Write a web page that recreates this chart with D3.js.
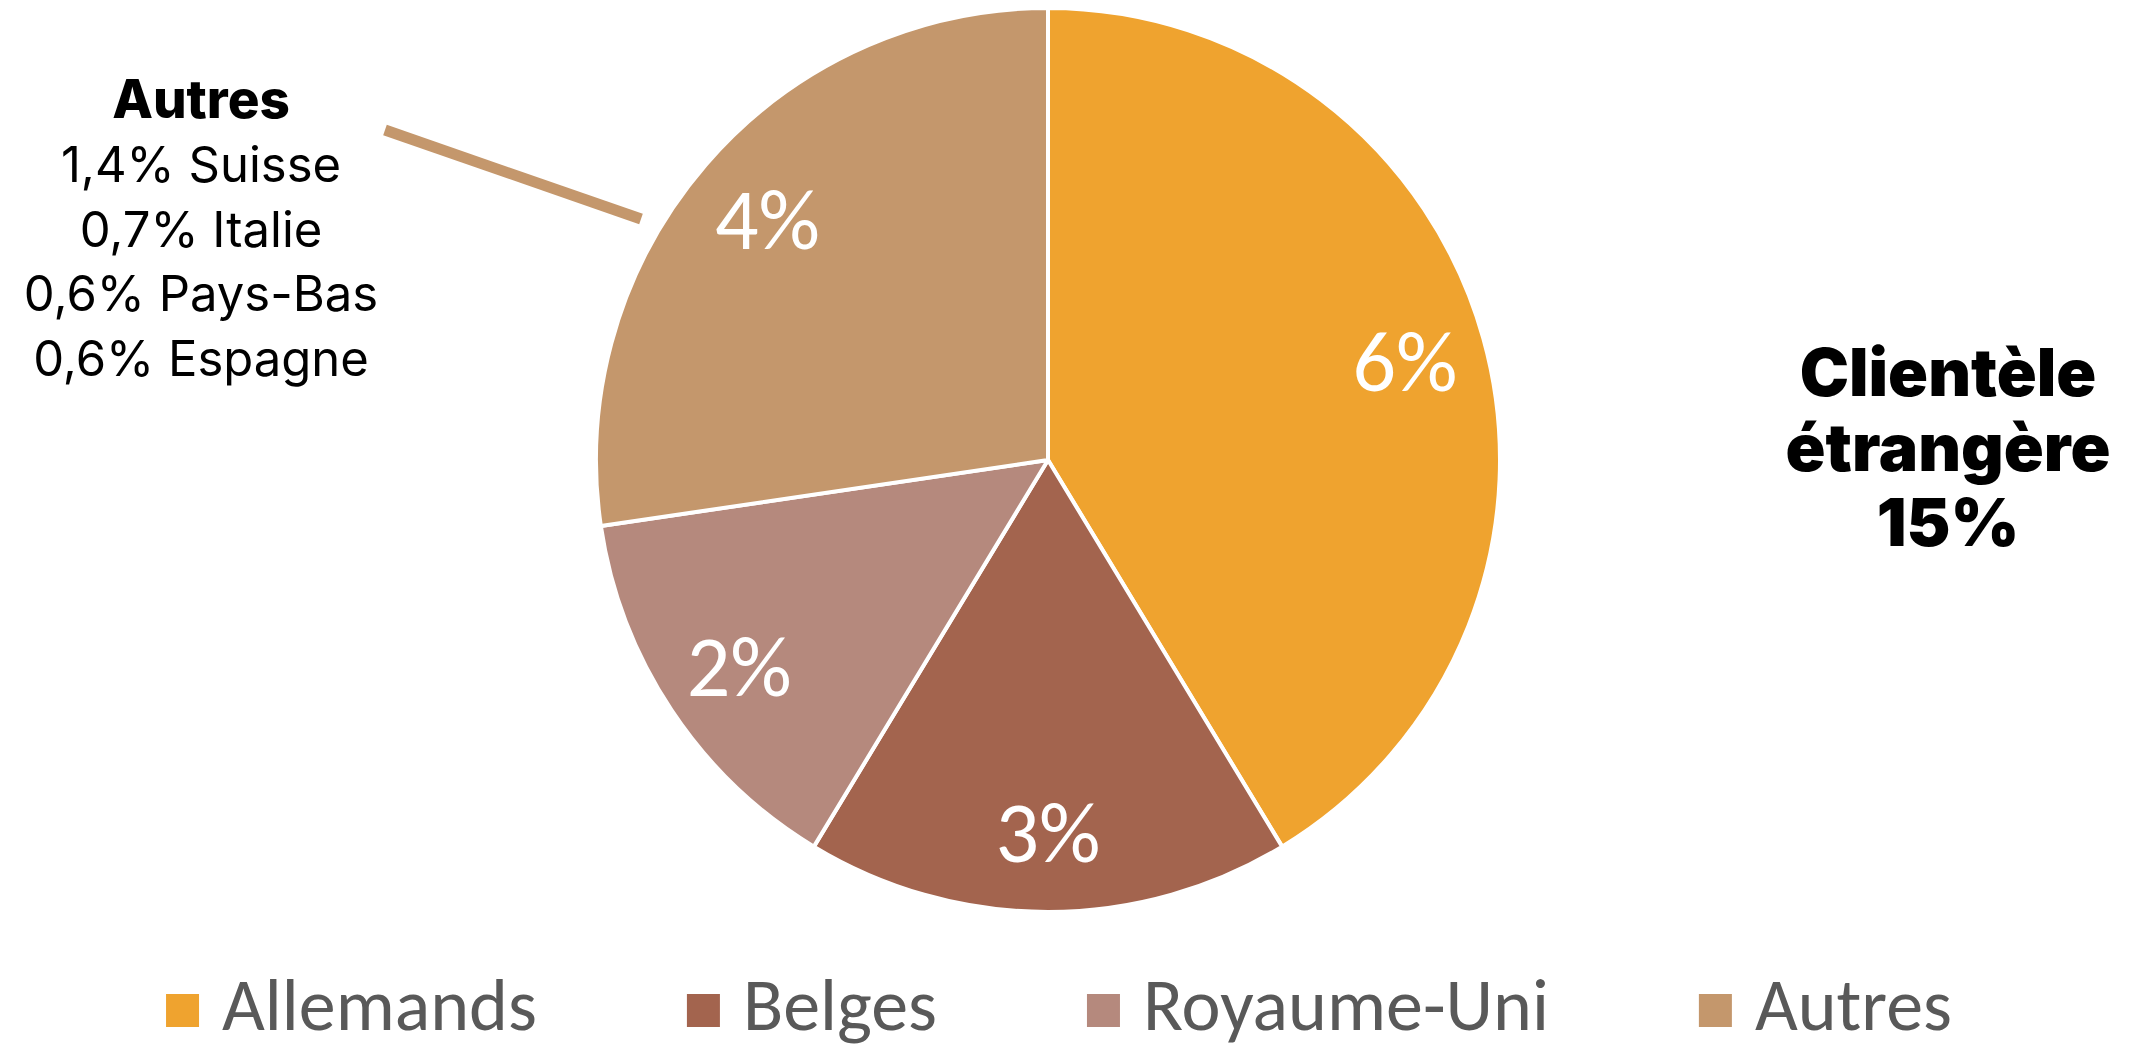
<!DOCTYPE html>
<html>
<head>
<meta charset="utf-8">
<title>Clientèle étrangère</title>
<style>
    body { margin: 0; background: #fff; }
    svg { display: block; }
</style>
</head>
<body>
<svg width="2144" height="1046"></svg>
<script src="https://d3js.org/d3.v7.min.js"></script>
<script>

    // data
    var categories = ["Allemands", "Belges", "Royaume-Uni", "Autres"];
    var values = [6.2, 2.6, 2.1, 4.1];
    var sliceLabels = ["6%", "3%", "2%", "4%"];
    var colors = ["#efa32f", "#a3644e", "#b5897d", "#c4976c"];
    var autresTitle = "Autres";
    var autresDetail = ["1,4% Suisse", "0,7% Italie", "0,6% Pays-Bas", "0,6% Espagne"];
    var totalLines = ["Clientèle", "étrangère", "15%"];

    var svg = d3.select("svg"),
        cx = 1048, cy = 460, radius = 452;

    var color = d3.scaleOrdinal().domain(categories).range(colors);

    var pie = d3.pie()
        .sort(null)
        .value(function (d) { return d.value; });

    var data = categories.map(function (c, i) {
        return {key: c, value: values[i], label: sliceLabels[i]};
    });

    var arc = d3.arc().innerRadius(0).outerRadius(radius);
    var labelArc = d3.arc().innerRadius(radius * 0.82).outerRadius(radius * 0.82);

    var g = svg.append("g").attr("transform", "translate(" + cx + "," + cy + ")");

    var arcs = pie(data);

    g.selectAll("path")
        .data(arcs)
        .enter().append("path")
        .attr("d", arc)
        .attr("fill", function (d) { return color(d.data.key); })
        .attr("stroke", "#fff")
        .attr("stroke-width", 4)
        .attr("stroke-linejoin", "round");

    g.selectAll("text.pct")
        .data(arcs)
        .enter().append("text")
        .attr("class", "pct")
        .attr("transform", function (d) { return "translate(" + labelArc.centroid(d) + ")"; })
        .attr("text-anchor", "middle")
        .attr("dy", "0.36em")
        .attr("fill", "#fff")
        .attr("font-family", "Carlito, Calibri, Lato, sans-serif")
        .attr("font-size", 86)
        .text(function (d) { return d.data.label; });

    // leader line from the "Autres" note to its slice
    svg.append("line")
        .attr("x1", 385).attr("y1", 130)
        .attr("x2", 641).attr("y2", 219)
        .attr("stroke", color("Autres"))
        .attr("stroke-width", 11);

    var note = svg.append("text")
        .attr("text-anchor", "middle")
        .attr("font-family", "Inter, sans-serif")
        .attr("fill", "#000");

    note.append("tspan")
        .attr("x", 201).attr("y", 118)
        .attr("font-weight", 800)
        .attr("font-size", 53)
        .text(autresTitle);

    note.selectAll("tspan.detail")
        .data(autresDetail)
        .enter().append("tspan")
        .attr("class", "detail")
        .attr("x", 201)
        .attr("y", function (d, i) { return 182 + i * 64.5; })
        .attr("font-size", 49)
        .text(function (d) { return d; });

    svg.append("text")
        .attr("text-anchor", "middle")
        .attr("font-family", "Inter, sans-serif")
        .attr("font-weight", 900)
        .attr("font-size", 66)
        .attr("fill", "#000")
        .selectAll("tspan")
        .data(totalLines)
        .enter().append("tspan")
        .attr("x", 1948)
        .attr("y", function (d, i) { return 396 + i * 75; })
        .text(function (d) { return d; });

    // legend
    var legend = svg.append("g")
        .attr("font-family", "Carlito, Calibri, Lato, sans-serif")
        .attr("font-size", 74)
        .attr("fill", "#595959");

    var items = legend.selectAll("g")
        .data(categories)
        .enter().append("g");

    items.append("rect")
        .attr("y", 994)
        .attr("width", 33)
        .attr("height", 33)
        .attr("fill", function (d) { return color(d); });

    items.append("text")
        .attr("x", 56)
        .attr("y", 1030)
        .text(function (d) { return d; });

    var xPos = 0, positions = [];
    items.each(function () {
        var w = d3.select(this).select("text").node().getComputedTextLength();
        positions.push(xPos);
        xPos += 56 + w + 150;
    });
    var legendWidth = xPos - 150;
    var x0 = 1059 - legendWidth / 2;
    items.attr("transform", function (d, i) { return "translate(" + (x0 + positions[i]) + ",0)"; });

</script>
</body>
</html>
